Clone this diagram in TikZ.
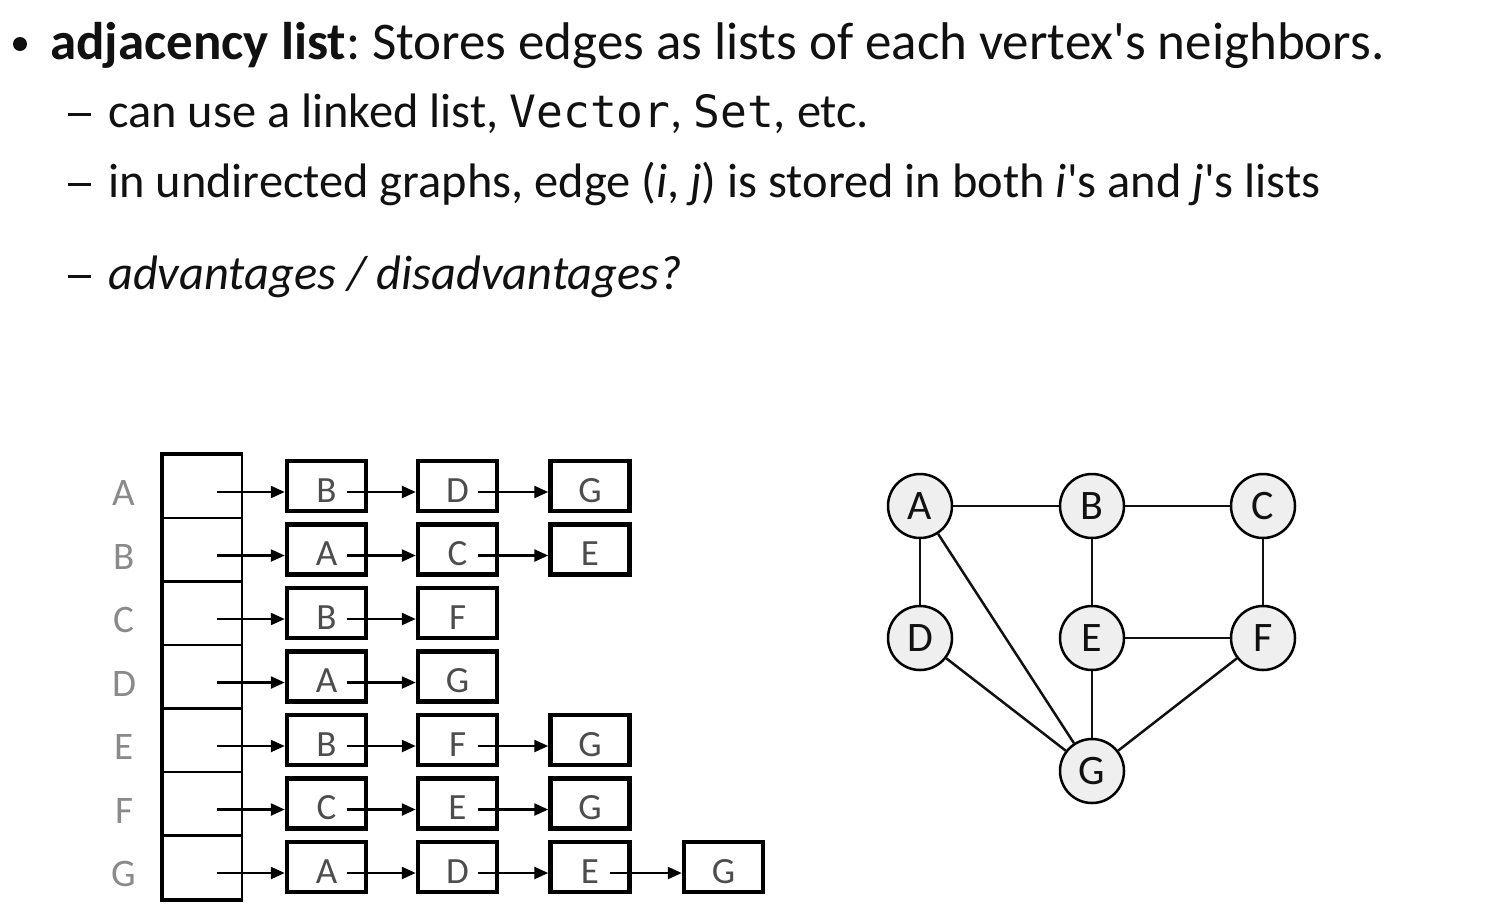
\documentclass[tikz,border=0pt]{standalone}
\usepackage{fontspec}
\setmainfont{Carlito}
\setmonofont[Scale=0.92]{DejaVu Sans Mono}
\usetikzlibrary{arrows.meta}
\definecolor{ink}{HTML}{111111}
\definecolor{labelgray}{HTML}{8A8A8A}
\definecolor{boxtext}{HTML}{4D4D4D}
\definecolor{vertexfill}{HTML}{EFEFEF}
\frenchspacing
\newcommand{\subdash}{\raisebox{11pt}{\rule{23pt}{2.6pt}}}
\begin{document}
\begin{tikzpicture}[x=1pt,y=-1pt,
  line text/.style={anchor=base west, inner sep=0pt, text=ink},
  bigfont/.style={font=\fontsize{53}{60}\selectfont},
  subfont/.style={font=\fontsize{48.4}{54}\selectfont},
  cell/.style={draw, line width=2pt, minimum width=79pt, minimum height=63pt, inner sep=0pt},
  rowlabel/.style={text=labelgray, font=\fontsize{39}{39}\selectfont, inner sep=0pt},
  listbox/.style={draw, line width=4.5pt, minimum width=79pt, minimum height=50pt,
    inner sep=0pt, text=boxtext, font=\fontsize{37}{37}\selectfont,
    text height=32pt, text depth=0pt},
  link/.style={-{Triangle[length=14pt,width=12pt]}, line width=2.4pt},
  vertex/.style={circle, draw, line width=2.5pt, fill=vertexfill, minimum size=64pt,
    inner sep=0pt, font=\fontsize{42}{42}\selectfont, text=ink},
  graphedge/.style={line width=2.5pt, draw=ink},
  bulletdot/.style={circle, fill=ink, minimum size=14pt, inner sep=0pt}
]
\useasboundingbox (0,0) rectangle (1490,916);

% bullet text
\node[bulletdot] (bullet) at (20,44) {};
\node[line text, bigfont] (line1) at (50,59)
  {\textbf{adjacency list}: Stores edges as lists of each vertex\textquotesingle s neighbors.};
\node[line text, subfont] (dash1) at (68,127) {\subdash};
\node[line text, subfont] (line2) at (108,127)
  {can use a linked list, \texttt{Vector}, \texttt{Set}, etc.};
\node[line text, subfont] (dash2) at (68,197) {\subdash};
\node[line text, subfont] (line3) at (108,197)
  {in undirected graphs, edge (\textit{i}, \textit{j}) is stored in both \textit{i}\textquotesingle s and \textit{j}\textquotesingle s lists};
\node[line text, subfont] (dash3) at (68,289) {\subdash};
\node[line text, subfont] (line4) at (108,289) {\textit{advantages / disadvantages?}};

% adjacency list: vertex table with linked neighbour boxes
\foreach \r/\nbrs [count=\i from 0] in
  {A/{B,D,G}, B/{A,C,E}, C/{B,F}, D/{A,G}, E/{B,F,G}, F/{C,E,G}, G/{A,D,E,G}} {
  \pgfmathsetmacro\yc{486+63.5*\i}
  \node[cell] (cell\r) at (202.5,\yc) {};
  \node[rowlabel] (label\r) at (124,\yc+7) {\r};
  \foreach \n [count=\k] in \nbrs {
    \pgfmathsetmacro\xc{{326.5,457.5,590,723.5}[\k-1]}
    \node[listbox] (box\r\k) at (\xc,\yc) {\n};
    \ifnum\k=1
      \draw[link] ([xshift=14pt,yshift=-6pt]cell\r.center) -- ([yshift=-6pt]box\r\k.west);
    \else
      \pgfmathtruncatemacro\p{\k-1}
      \draw[link] ([xshift=20pt,yshift=-6pt]box\r\p.center) -- ([yshift=-6pt]box\r\k.west);
    \fi
  }
}
\draw[line width=4pt] (cellA.north east) -- (cellA.north west) -- (cellG.south west) -- (cellG.south east);

% undirected graph
\node[vertex] (A) at (920,506) {A};
\node[vertex] (B) at (1092,506) {B};
\node[vertex] (C) at (1263,506) {C};
\node[vertex] (D) at (920,638) {D};
\node[vertex] (E) at (1092,638) {E};
\node[vertex] (F) at (1263,638) {F};
\node[vertex] (G) at (1092,771) {G};
\foreach \u/\v in {A/B, B/C, A/D, A/G, B/E, C/F, D/G, E/F, E/G, F/G}
  \draw[graphedge] (\u) -- (\v);
\end{tikzpicture}
\end{document}
